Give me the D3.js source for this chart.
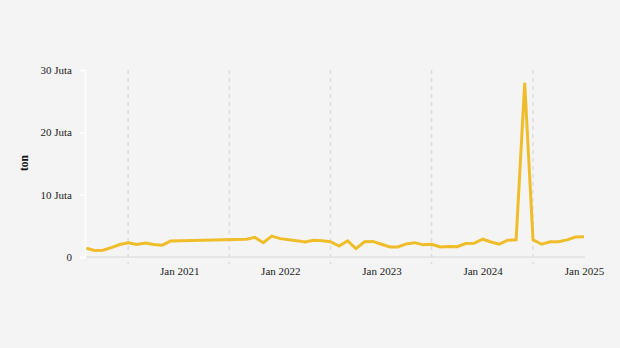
<!DOCTYPE html>
<html>
<head>
<meta charset="utf-8">
<script src="https://cdn.jsdelivr.net/npm/d3@7"></script>
<style>
  body { margin: 0; background: #f4f4f4; }
  svg { display: block; font-family: "Liberation Serif", "DejaVu Serif", serif; }
</style>
</head>
<body>
<script>
// Monthly volume (juta ton); months 2021-01..2021-08 are missing in the source
let months = [
  '2020-02','2020-03','2020-04','2020-05','2020-06','2020-07','2020-08','2020-09','2020-10','2020-11','2020-12',
  '2021-09','2021-10','2021-11','2021-12',
  '2022-01','2022-02','2022-03','2022-04','2022-05','2022-06','2022-07','2022-08','2022-09','2022-10','2022-11','2022-12',
  '2023-01','2023-02','2023-03','2023-04','2023-05','2023-06','2023-07','2023-08','2023-09','2023-10','2023-11','2023-12',
  '2024-01','2024-02','2024-03','2024-04','2024-05','2024-06','2024-07','2024-08','2024-09','2024-10','2024-11','2024-12',
  '2025-01'
];
let values = [
  1.4, 1.05, 1.1, 1.5, 2.0, 2.3, 2.0, 2.25, 2.0, 1.9, 2.55,
  2.85, 3.15, 2.3, 3.35,
  2.95, 2.75, 2.6, 2.4, 2.7, 2.6, 2.45, 1.75, 2.6, 1.35, 2.45, 2.5,
  2.05, 1.6, 1.6, 2.1, 2.3, 1.95, 2.05, 1.6, 1.7, 1.65, 2.15, 2.2,
  2.85, 2.4, 2.05, 2.7, 2.75, 27.95, 2.75, 2.05, 2.45, 2.45, 2.75, 3.2,
  3.25
];
let yTicks = [0, 10, 20, 30];
let xTickYears = [2021, 2022, 2023, 2024, 2025];
let gridYears = [2020, 2021, 2022, 2023, 2024];

let width = 620, height = 348;
let parse = d3.timeParse('%Y-%m');
let data = months.map((m, i) => ({ date: parse(m), value: values[i] }));

let svg = d3.select('body')
  .append('svg')
    .attr('width', width)
    .attr('height', height)
    .style('background', '#f4f4f4');

let xScale = d3.scaleTime()
  .domain([new Date(2020, 0, 1), new Date(2025, 0, 1)])
  .range([77.75, 584]);

let yScale = d3.scaleLinear()
  .domain([0, 30])
  .range([257, 70]);

// vertical dashed gridlines (July of each year)
svg.append('g')
  .selectAll('line')
    .data(gridYears)
  .enter()
  .append('line')
    .attr('x1', d => xScale(new Date(d, 6, 1)))
    .attr('x2', d => xScale(new Date(d, 6, 1)))
    .attr('y1', 70)
    .attr('y2', 264)
    .attr('stroke', '#dcdcdc')
    .attr('stroke-width', 1.5)
    .attr('stroke-dasharray', '4,4');

// baseline
svg.append('line')
  .attr('x1', 85)
  .attr('x2', 585)
  .attr('y1', yScale(0))
  .attr('y2', yScale(0))
  .attr('stroke', '#e2e2e2')
  .attr('stroke-width', 1.5);

// y axis
let yAxis = svg.append('g')
  .attr('transform', 'translate(85,0)')
  .call(d3.axisLeft(yScale)
    .tickValues(yTicks)
    .tickSize(5)
    .tickPadding(8)
    .tickFormat(d => d === 0 ? '0' : d + ' Juta'));
yAxis.selectAll('path, line').attr('stroke', '#ffffff').attr('stroke-width', 1.5);
yAxis.selectAll('text')
  .attr('fill', '#222')
  .style('font-size', '11px')
  .style('font-family', '"Liberation Serif", serif');

svg.append('text')
  .attr('transform', 'translate(28,163) rotate(-90)')
  .attr('text-anchor', 'middle')
  .style('font-size', '11.5px')
  .style('font-weight', 'bold')
  .attr('fill', '#111')
  .text('ton');

// x axis labels
let xAxis = svg.append('g')
  .attr('transform', 'translate(0,257)')
  .call(d3.axisBottom(xScale)
    .tickValues(xTickYears.map(y => new Date(y, 0, 1)))
    .tickSize(0)
    .tickPadding(10)
    .tickFormat(d3.timeFormat('Jan %Y')));
xAxis.select('.domain').remove();
xAxis.selectAll('text')
  .attr('fill', '#222')
  .style('font-size', '11px')
  .style('font-family', '"Liberation Serif", serif');

// line
let line = d3.line()
  .x(d => xScale(d.date))
  .y(d => yScale(d.value));

svg.append('path')
  .datum(data)
  .attr('d', line)
  .attr('fill', 'none')
  .attr('stroke', '#f0bd2a')
  .attr('stroke-width', 3)
  .attr('stroke-linejoin', 'miter');
</script>
</body>
</html>
